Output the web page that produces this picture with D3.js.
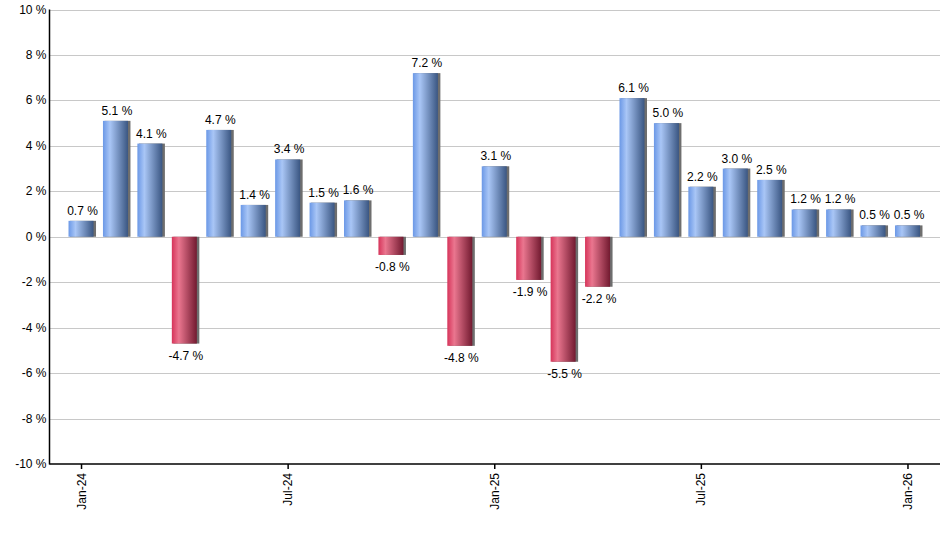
<!DOCTYPE html>
<html>
<head>
<meta charset="utf-8">
<script src="https://cdn.jsdelivr.net/npm/d3@7"></script>
<style>
  body { margin: 0; background: #fff; }
  text { font-family: "Liberation Sans", Arial, sans-serif; }
</style>
</head>
<body>
<div id="chart"></div>
<script>
// monthly returns, Jan-24 .. Jan-26
var months = ["Jan-24","Feb-24","Mar-24","Apr-24","May-24","Jun-24","Jul-24","Aug-24","Sep-24","Oct-24","Nov-24","Dec-24",
              "Jan-25","Feb-25","Mar-25","Apr-25","May-25","Jun-25","Jul-25","Aug-25","Sep-25","Oct-25","Nov-25","Dec-25","Jan-26"];
var values = [0.7, 5.1, 4.1, -4.7, 4.7, 1.4, 3.4, 1.5, 1.6, -0.8, 7.2, -4.8,
              3.1, -1.9, -5.5, -2.2, 6.1, 5.0, 2.2, 3.0, 2.5, 1.2, 1.2, 0.5, 0.5];
var tickMonths = ["Jan-24", "Jul-24", "Jan-25", "Jul-25", "Jan-26"];
var yTicks = [-10, -8, -6, -4, -2, 0, 2, 4, 6, 8, 10];

var width = 940, height = 550;
// note: "top" is taken by window.top, hence the m prefix
var mLeft = 49.5, mRight = 940, mTop = 9.5, mBottom = 464;

var svg = d3.select("#chart").append("svg")
    .attr("width", width).attr("height", height);

var defs = svg.append("defs");
function gradient(id, c1, c2, c3) {
    var g = defs.append("linearGradient").attr("id", id)
        .attr("x1", "0%").attr("x2", "100%").attr("y1", "0%").attr("y2", "0%");
    g.append("stop").attr("offset", "0%").attr("stop-color", c1);
    g.append("stop").attr("offset", "28%").attr("stop-color", c2);
    g.append("stop").attr("offset", "100%").attr("stop-color", c3);
}
gradient("gpos", "#6b98e6", "#a9c6f6", "#3a5682");
gradient("gneg", "#d6345a", "#ea768f", "#721a30");

var x = d3.scalePoint().domain(months).range([mLeft, mRight]).padding(0.93);
var y = d3.scaleLinear().domain([-10, 10]).range([mBottom, mTop]);
var barW = 26;

// grid
svg.append("g").selectAll("line").data(yTicks.filter(function(d) { return d != -10; }))
    .enter().append("line")
    .attr("x1", mLeft).attr("x2", mRight)
    .attr("y1", function(d) { return Math.round(y(d)) + 0.5; })
    .attr("y2", function(d) { return Math.round(y(d)) + 0.5; })
    .attr("stroke", "#c8c8c8").attr("stroke-width", 1);

// y labels
svg.append("g").selectAll("text").data(yTicks).enter().append("text")
    .attr("x", mLeft - 3)
    .attr("y", function(d) { return y(d) + 4; })
    .attr("text-anchor", "end")
    .attr("font-size", 12)
    .attr("fill", "#000")
    .text(function(d) { return d + " %"; });

// bars
var bars = svg.append("g").selectAll("g").data(values).enter().append("g");
bars.append("rect")
    .attr("x", function(d, i) { return x(months[i]) - barW / 2 + 1.5; })
    .attr("y", function(d) { return d >= 0 ? y(d) : y(0); })
    .attr("width", barW)
    .attr("height", function(d) { return Math.abs(y(d) - y(0)); })
    .attr("fill", "#6e6e6e");
bars.append("rect")
    .attr("x", function(d, i) { return x(months[i]) - barW / 2; })
    .attr("y", function(d) { return d >= 0 ? y(d) : y(0); })
    .attr("width", barW - 1)
    .attr("height", function(d) { return Math.abs(y(d) - y(0)); })
    .attr("fill", function(d) { return d >= 0 ? "url(#gpos)" : "url(#gneg)"; });

bars.append("text")
    .attr("x", function(d, i) { return x(months[i]) + 1; })
    .attr("y", function(d) { return d >= 0 ? y(d) - 6 : y(d) + 16; })
    .attr("text-anchor", "middle")
    .attr("font-size", 12)
    .attr("fill", "#000")
    .text(function(d) { return d.toFixed(1) + " %"; });

// axes lines
svg.append("line").attr("x1", mLeft).attr("x2", mLeft).attr("y1", mTop).attr("y2", mBottom + 0.5)
    .attr("stroke", "#000").attr("stroke-width", 1.5);
svg.append("line").attr("x1", mLeft).attr("x2", mRight).attr("y1", mBottom).attr("y2", mBottom)
    .attr("stroke", "#000").attr("stroke-width", 1.5);

// x ticks
var xt = svg.append("g").selectAll("g").data(tickMonths).enter().append("g")
    .attr("transform", function(d) { return "translate(" + x(d) + "," + mBottom + ")"; });
xt.append("line").attr("y1", 0).attr("y2", 5).attr("stroke", "#000").attr("stroke-width", 1.5);
xt.append("text")
    .attr("transform", "translate(4,9) rotate(-90)")
    .attr("text-anchor", "end")
    .attr("font-size", 12)
    .attr("fill", "#000")
    .text(function(d) { return d; });
</script>
</body>
</html>
